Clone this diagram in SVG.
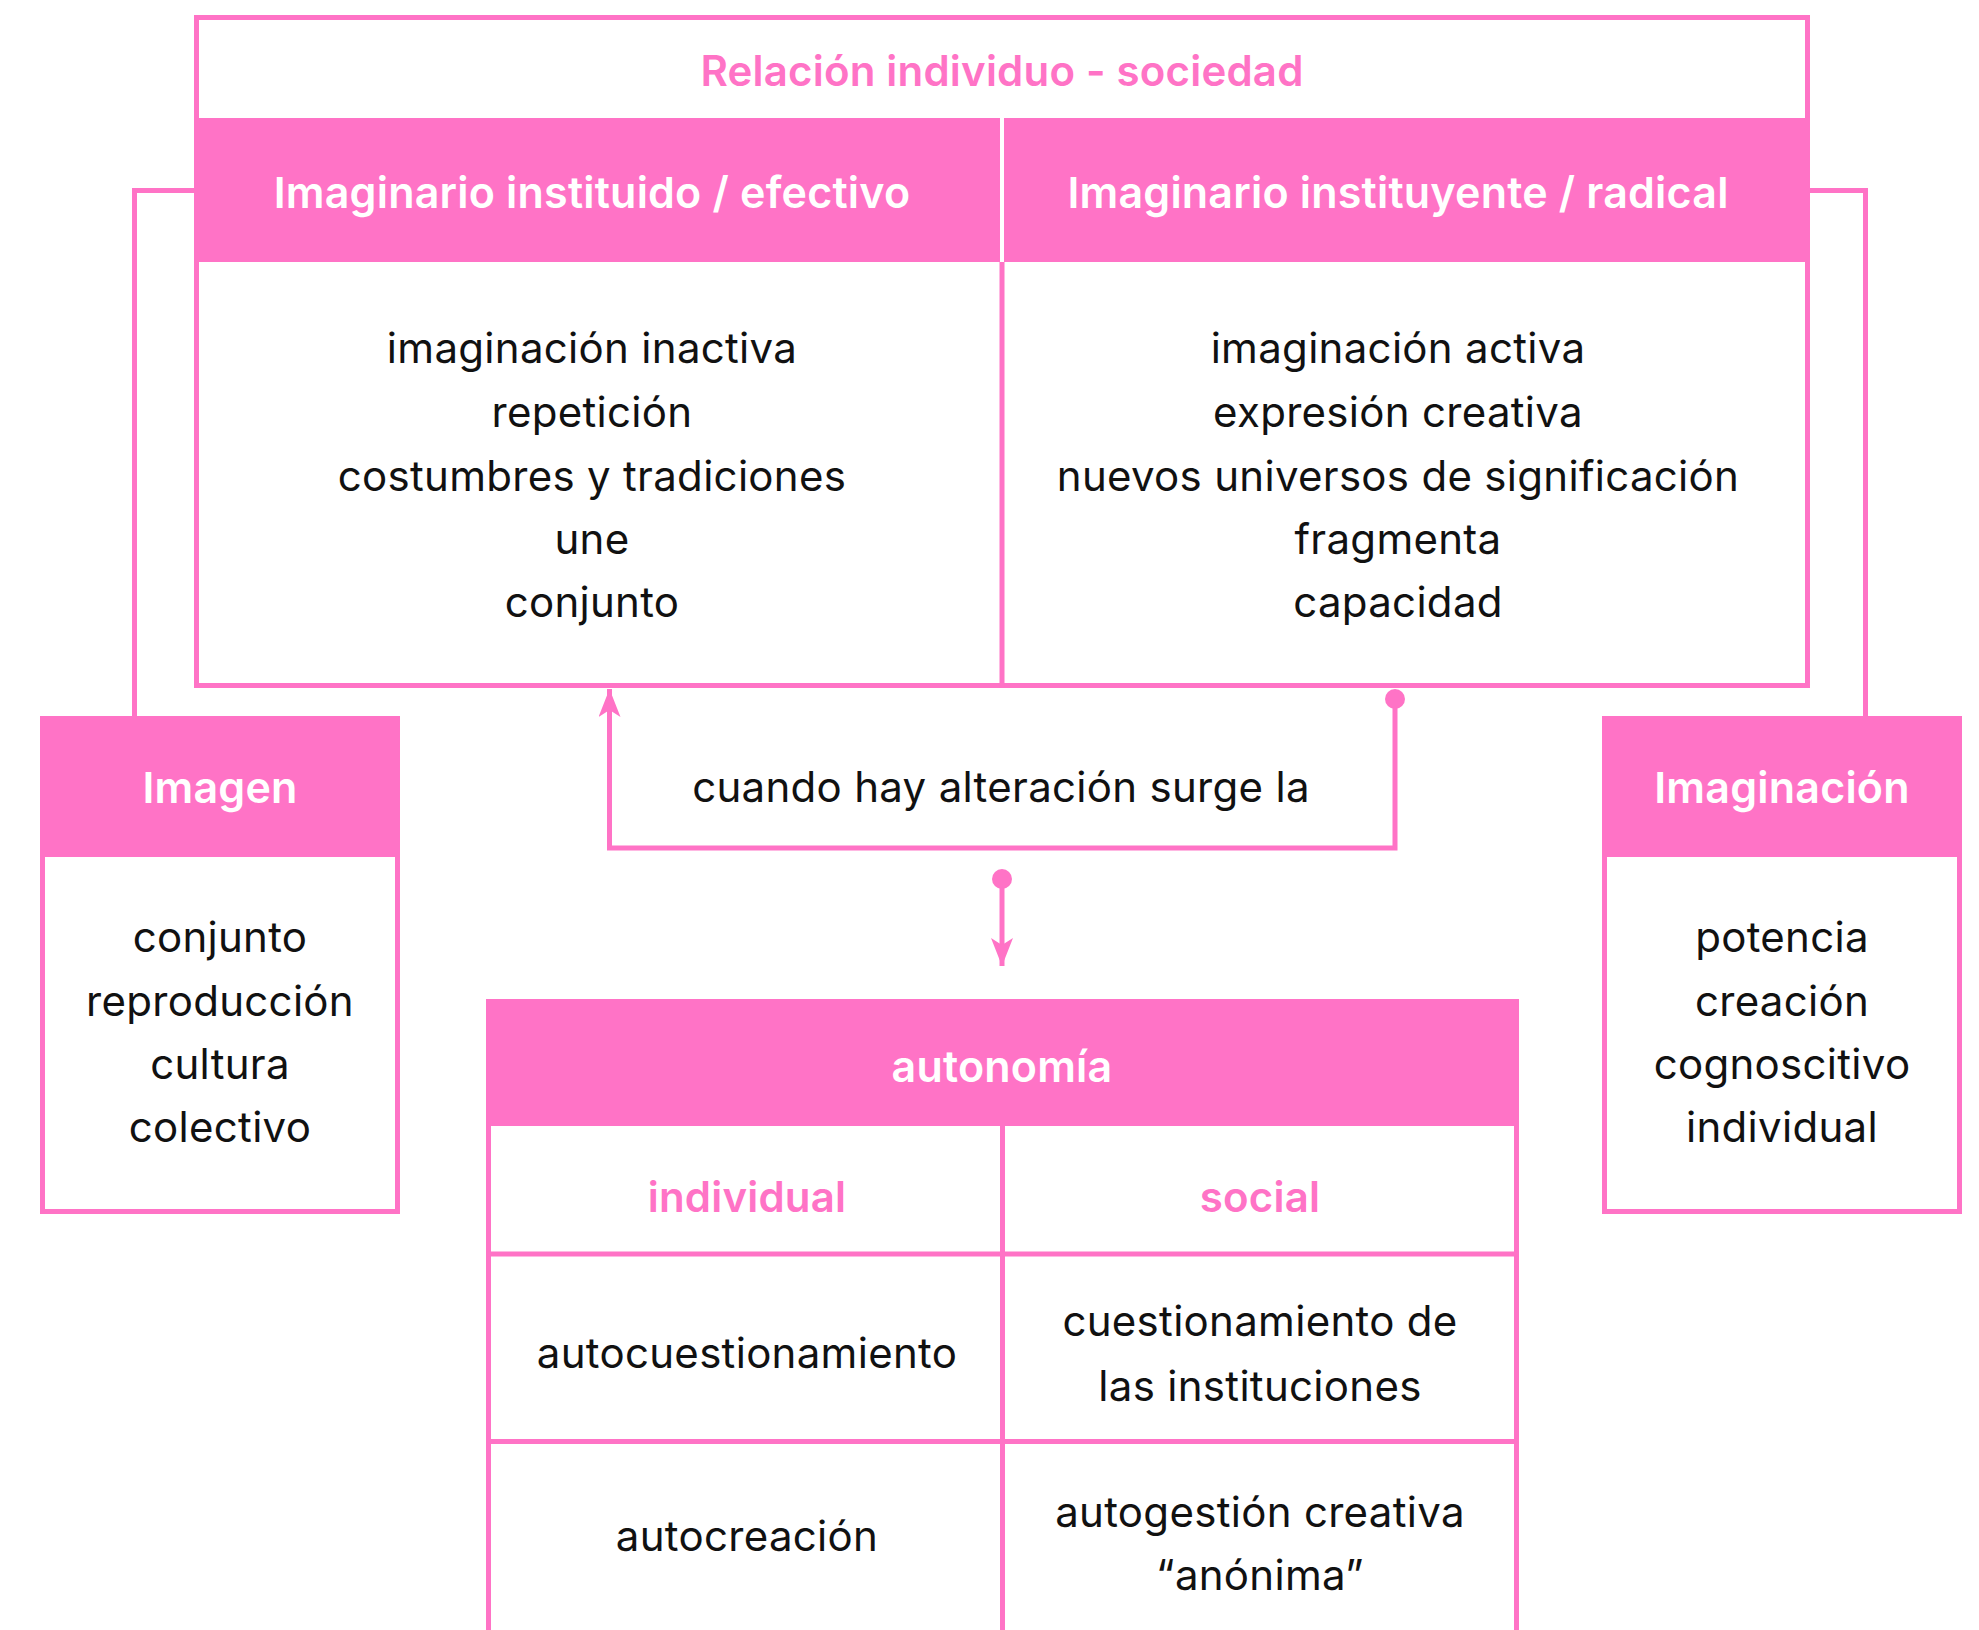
<svg xmlns="http://www.w3.org/2000/svg" width="1979" height="1630" viewBox="0 0 1979 1630">
<defs>
<style>
.box{fill:#fff;stroke:#FF73C6;stroke-width:5}
.hdr{fill:#FF73C6}
.ln{stroke:#FF73C6;stroke-width:5;fill:none}
.t{font-family:Inter,"Noto Sans",sans-serif;font-size:42px;letter-spacing:0.3px;fill:#111;text-anchor:middle}
.hb{font-family:Inter,"Noto Sans",sans-serif;font-size:43px;letter-spacing:0.2px;font-weight:600;fill:#fff;text-anchor:middle}
.pb{font-family:Inter,"Noto Sans",sans-serif;font-size:42px;letter-spacing:0.2px;font-weight:600;fill:#FF73C6;text-anchor:middle}
</style>
<marker id="arr" viewBox="0 0 28 22" refX="28" refY="11" markerWidth="28" markerHeight="22" markerUnits="userSpaceOnUse" orient="auto">
<path d="M0,0 L28,11 L0,22 L7,11 Z" fill="#FF73C6"/>
</marker>
<marker id="dot" viewBox="0 0 20 20" refX="10" refY="10" markerWidth="20" markerHeight="20" markerUnits="userSpaceOnUse" orient="auto">
<circle cx="10" cy="10" r="10" fill="#FF73C6"/>
</marker>
</defs>
<rect width="1979" height="1630" fill="#fff"/>

<g id="connectors">
<path class="ln" d="M196,190.5 L134.5,190.5 L134.5,717"/>
<path class="ln" d="M1808,190.5 L1865.5,190.5 L1865.5,717"/>
<path class="ln" d="M1395,699 L1395,848 L609.5,848 L609.5,689" marker-start="url(#dot)" marker-end="url(#arr)"/>
<path class="ln" d="M1002,879 L1002,966" marker-start="url(#dot)" marker-end="url(#arr)"/>
</g>

<g id="relacion">
<rect class="box" x="196.5" y="17.5" width="1611" height="668"/>
<rect class="hdr" x="194" y="118" width="1616" height="144"/>
<line x1="1002" y1="118" x2="1002" y2="262" stroke="#fff" stroke-width="4"/>
<line class="ln" x1="1002" y1="262" x2="1002" y2="688"/>
<text class="pb" x="1002" y="86">Relación individuo - sociedad</text>
<text class="hb" x="592" y="208">Imaginario instituido / efectivo</text>
<text class="hb" x="1398" y="208">Imaginario instituyente / radical</text>
<text class="t" x="592" y="363">imaginación inactiva</text>
<text class="t" x="592" y="427">repetición</text>
<text class="t" x="592" y="491">costumbres y tradiciones</text>
<text class="t" x="592" y="554">une</text>
<text class="t" x="592" y="617">conjunto</text>
<text class="t" x="1398" y="363">imaginación activa</text>
<text class="t" x="1398" y="427">expresión creativa</text>
<text class="t" x="1398" y="491">nuevos universos de significación</text>
<text class="t" x="1398" y="554">fragmenta</text>
<text class="t" x="1398" y="617">capacidad</text>
</g>

<g id="imagen">
<rect class="box" x="42.5" y="718.5" width="355" height="493"/>
<rect class="hdr" x="40" y="716" width="360" height="141"/>
<text class="hb" x="220" y="803">Imagen</text>
<text class="t" x="220" y="952">conjunto</text>
<text class="t" x="220" y="1016">reproducción</text>
<text class="t" x="220" y="1079">cultura</text>
<text class="t" x="220" y="1142">colectivo</text>
</g>

<g id="imaginacion">
<rect class="box" x="1604.5" y="718.5" width="355" height="493"/>
<rect class="hdr" x="1602" y="716" width="360" height="141"/>
<text class="hb" x="1782" y="803">Imaginación</text>
<text class="t" x="1782" y="952">potencia</text>
<text class="t" x="1782" y="1016">creación</text>
<text class="t" x="1782" y="1079">cognoscitivo</text>
<text class="t" x="1782" y="1142">individual</text>
</g>

<g id="alteracion">
<text class="t" x="1001" y="802">cuando hay alteración surge la</text>
</g>

<g id="autonomia">
<rect class="box" x="488.5" y="1001.5" width="1028" height="700"/>
<rect class="hdr" x="486" y="999" width="1033" height="127"/>
<line class="ln" x1="1002.5" y1="1126" x2="1002.5" y2="1640"/>
<line class="ln" x1="488" y1="1254" x2="1517" y2="1254"/>
<line class="ln" x1="488" y1="1441.5" x2="1517" y2="1441.5"/>
<text class="hb" x="1002" y="1082">autonomía</text>
<text class="pb" x="747" y="1212">individual</text>
<text class="pb" x="1260" y="1212">social</text>
<text class="t" x="747" y="1368">autocuestionamiento</text>
<text class="t" x="1260" y="1336">cuestionamiento de</text>
<text class="t" x="1260" y="1401">las instituciones</text>
<text class="t" x="747" y="1551">autocreación</text>
<text class="t" x="1260" y="1527">autogestión creativa</text>
<text class="t" x="1260" y="1590">“anónima”</text>
</g>
</svg>
